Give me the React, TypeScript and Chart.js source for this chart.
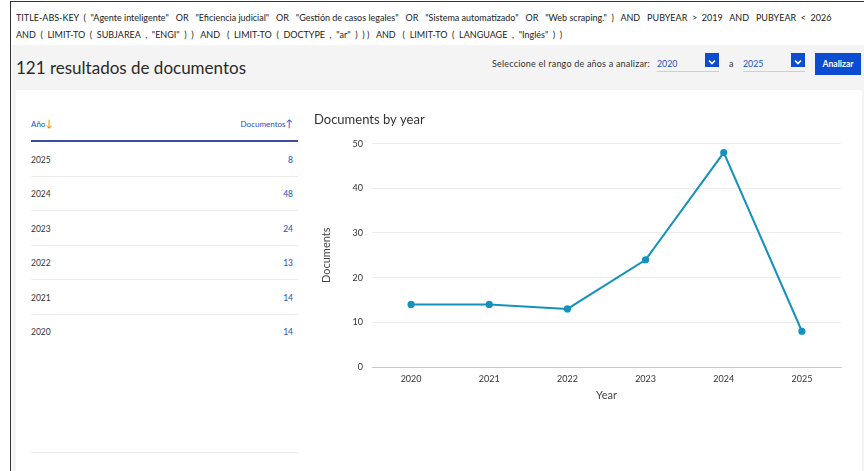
import React, { useEffect, useRef } from "react";
import { Chart, registerables } from "chart.js";

Chart.register(...registerables);

const years = ["2020", "2021", "2022", "2023", "2024", "2025"];
const documents = [14, 14, 13, 24, 48, 8];
const yTicks = [0, 10, 20, 30, 40, 50];
const tableYears = ["2025", "2024", "2023", "2022", "2021", "2020"];
const tableDocs = [8, 48, 24, 13, 14, 14];

const FONT = "Lato, 'Noto Sans', sans-serif";
const LINE = "#1591be";

function LineChart() {
  const ref = useRef<HTMLCanvasElement>(null);
  useEffect(() => {
    if (!ref.current) return;
    const chart = new Chart(ref.current, {
      type: "line",
      data: {
        labels: years,
        datasets: [
          {
            label: "Documents",
            data: documents,
            borderColor: LINE,
            backgroundColor: LINE,
            borderWidth: 2,
            pointRadius: 2.6,
            pointHoverRadius: 2.6,
            tension: 0,
          },
        ],
      },
      options: {
        animation: false,
        responsive: false,
        maintainAspectRatio: false,
        layout: { padding: { left: 4, right: 9, top: 0, bottom: 3 } },
        plugins: {
          legend: { display: false },
          tooltip: { enabled: false },
          title: {
            display: true,
            text: "Documents by year",
            align: "start",
            color: "#333",
            font: { family: FONT, size: 13, weight: "normal" },
            padding: { top: 7, bottom: 16 },
          },
        },
        scales: {
          x: {
            offset: true,
            grid: { display: false, drawTicks: false },
            border: { color: "#c3c8d4", width: 1 },
            ticks: {
              color: "#333",
              font: { family: FONT, size: 9 },
              padding: 7,
              maxRotation: 0,
            },
            title: {
              display: true,
              text: "Year",
              color: "#444",
              font: { family: FONT, size: 11 },
              padding: { top: 0, bottom: 0 },
            },
            afterFit: (s: any) => {
              s.height = 35;
            },
          },
          y: {
            min: 0,
            max: 50,
            afterBuildTicks: (s: any) => {
              s.ticks = yTicks.map((v) => ({ value: v }));
            },
            grid: { color: "#ececec", drawTicks: false },
            border: { display: false },
            ticks: {
              color: "#333",
              font: { family: FONT, size: 9 },
              padding: 9,
            },
            title: {
              display: true,
              text: "Documents",
              color: "#444",
              font: { family: FONT, size: 11 },
              padding: { top: 6, bottom: 4 },
            },
            afterFit: (s: any) => {
              s.width = 58;
            },
          },
        },
      },
    });
    return () => chart.destroy();
  }, []);
  return (
    <canvas
      ref={ref}
      width={540}
      height={300}
      style={{ position: "absolute", left: 310, top: 105, width: 540, height: 300 }}
    />
  );
}

function Chevron({ left }: { left: number }) {
  return (
    <div
      style={{
        position: "absolute",
        left,
        top: 53,
        width: 14,
        height: 14,
        background: "#0b4cd0",
      }}
    >
      <svg width="14" height="14" viewBox="0 0 14 14">
        <polyline points="4,5.5 7,8.5 10,5.5" fill="none" stroke="#fff" strokeWidth="1.6" />
      </svg>
    </div>
  );
}

export default function App() {
  const abs = (o: React.CSSProperties): React.CSSProperties => ({ position: "absolute", ...o });
  const rowTop = (i: number) => 155 + i * 34.4;
  return (
    <div
      style={{
        position: "absolute",
        left: 0,
        top: 0,
        width: 864,
        height: 471,
        overflow: "hidden",
        background: "#fff",
        fontFamily: FONT,
      }}
    >
      {/* outer frame */}
      <div style={abs({ left: 10, top: 1, width: 860, height: 480, borderLeft: "1.5px solid #333", borderTop: "1.5px solid #333" })} />
      {/* query */}
      <div style={abs({ left: 16, top: 9, fontSize: 9, color: "#222", whiteSpace: "pre", lineHeight: "17px" })}>
        {'TITLE-ABS-KEY  (  "Agente inteligente"   OR   "Eficiencia judicial"   OR   "Gestión de casos legales"   OR   "Sistema automatizado"   OR   "Web scraping."  )   AND   PUBYEAR  >  2019   AND   PUBYEAR  <  2026\nAND  (  LIMIT-TO  (  SUBJAREA  ,  "ENGI"  )  )   AND   (  LIMIT-TO  (  DOCTYPE  ,  "ar"  )  ) )   AND   (  LIMIT-TO  (  LANGUAGE  ,  "Inglés"  )  )'}
      </div>
      {/* gray band */}
      <div style={abs({ left: 12, top: 45, width: 852, height: 430, background: "#f4f4f4" })} />
      <div style={abs({ left: 16, top: 57, fontSize: 17, color: "#2b2b2b" })}>121 resultados de documentos</div>
      <div style={abs({ left: 492, top: 58, fontSize: 9, letterSpacing: 0.2, color: "#333" })}>Seleccione el rango de años a analizar:</div>
      <div style={abs({ left: 657, top: 58, width: 62, height: 13, borderBottom: "1px solid #cfcfcf", fontSize: 8.8, color: "#1b4fc4" })}>
        2020
      </div>
      <Chevron left={705} />
      <div style={abs({ left: 729, top: 58, fontSize: 9, color: "#333" })}>a</div>
      <div style={abs({ left: 743, top: 58, width: 62, height: 13, borderBottom: "1px solid #cfcfcf", fontSize: 8.8, color: "#1b4fc4" })}>
        2025
      </div>
      <Chevron left={791} />
      <div
        style={abs({
          left: 815,
          top: 53,
          width: 46,
          height: 22,
          background: "#0b4cd0",
          color: "#fff",
          fontSize: 8.6,
          fontWeight: 700,
          display: "flex",
          alignItems: "center",
          justifyContent: "center",
        })}
      >
        Analizar
      </div>
      {/* white card */}
      <div style={abs({ left: 16, top: 90, width: 846, height: 400, background: "#fff" })} />
      {/* table */}
      <div style={abs({ left: 31, top: 117, fontSize: 8, color: "#1b4fc4" })}>
        Año<span style={{ color: "#e8731c", fontSize: 10 }}>↓</span>
      </div>
      <div style={abs({ left: 220, top: 117, width: 73, textAlign: "right", fontSize: 8, color: "#1b4fc4" })}>
        Documentos<span style={{ fontSize: 10 }}>↑</span>
      </div>
      <div style={abs({ left: 31, top: 140, width: 267, height: 1.5, background: "#3c4d9c" })} />
      {tableYears.map((y, i) => (
        <React.Fragment key={y}>
          <div style={abs({ left: 31, top: rowTop(i), fontSize: 8.5, color: "#333" })}>{y}</div>
          <div style={abs({ left: 240, top: rowTop(i), width: 53, textAlign: "right", fontSize: 8.5, color: "#1b4fc4" })}>
            {tableDocs[i]}
          </div>
          {i < tableYears.length - 1 && (
            <div style={abs({ left: 31, top: 176 + i * 34.4, width: 267, height: 1, background: "#ececec" })} />
          )}
        </React.Fragment>
      ))}
      <div style={abs({ left: 31, top: 452, width: 267, height: 1, background: "#ececec" })} />
      <LineChart />
    </div>
  );
}
